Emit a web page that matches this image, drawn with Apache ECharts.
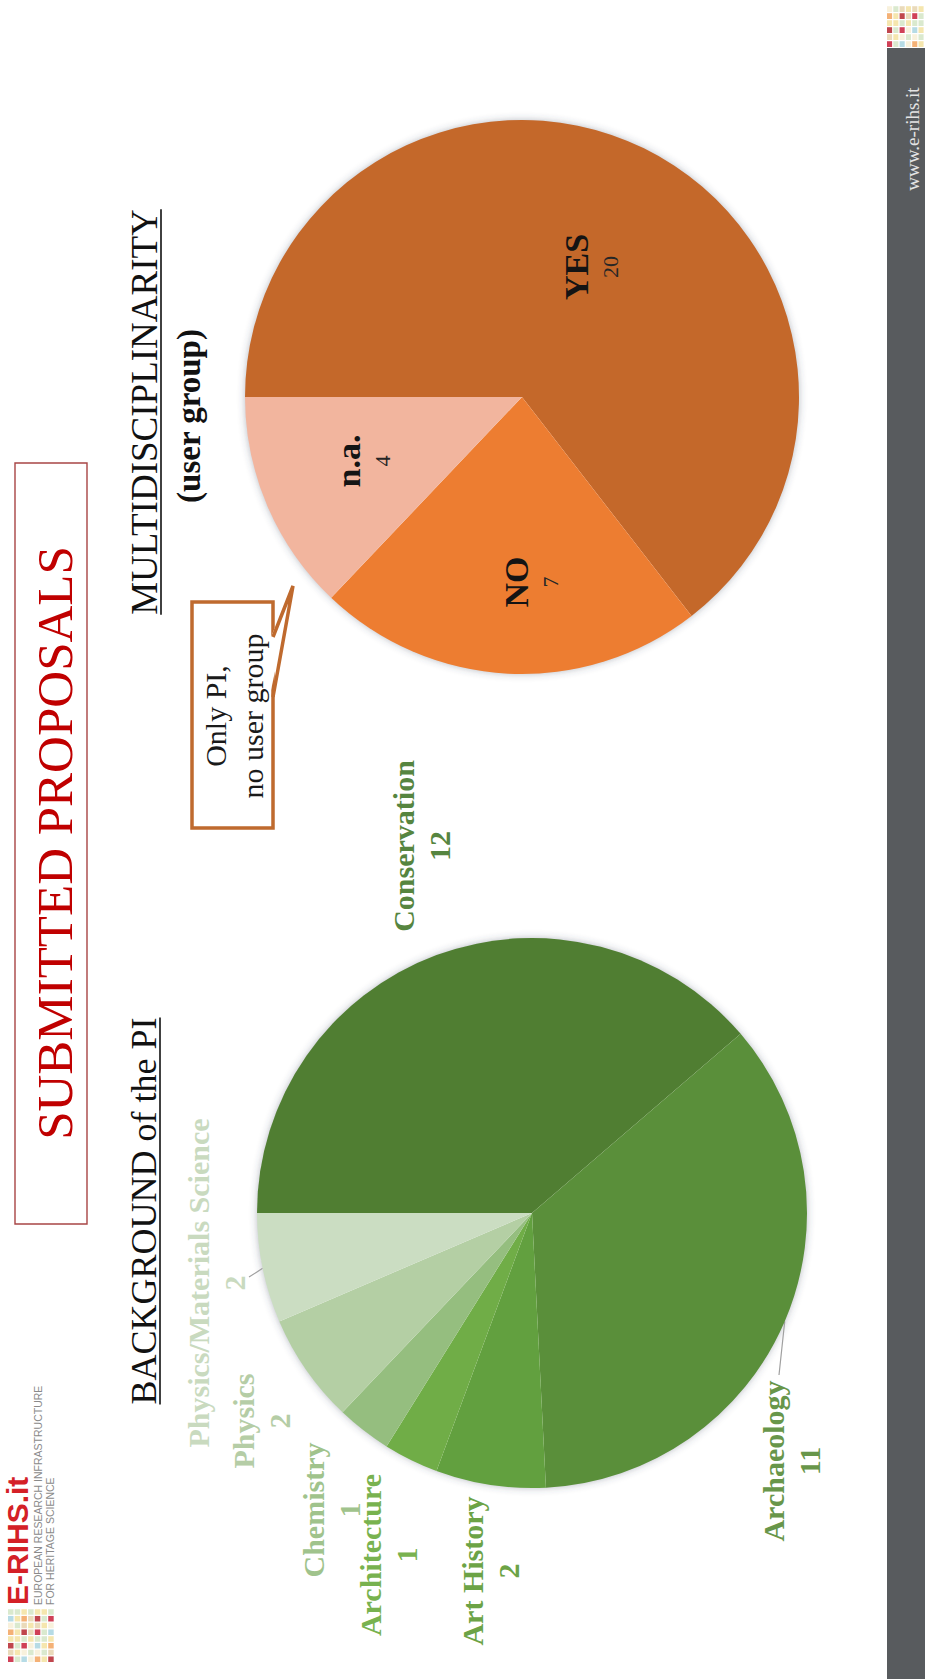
<!DOCTYPE html>
<html>
<head>
<meta charset="utf-8">
<title>Submitted proposals</title>
<script src="https://cdn.jsdelivr.net/npm/echarts@6/dist/echarts.min.js"></script>
<style>
  html, body { margin: 0; padding: 0; width: 925px; height: 1679px; overflow: hidden; background: #ffffff; }
  /* the slide is laid out in landscape and turned a quarter turn counter-clockwise */
  #slide {
    position: absolute; left: 0; top: 0;
    width: 1679px; height: 925px;
    transform-origin: 0 0;
    transform: translate(0, 1679px) rotate(-90deg);
  }
</style>
</head>
<body>
<div id="slide"></div>
<script>
// ---- Background of the PI ----
const backgroundNames = ['Conservation', 'Archaeology', 'Art History', 'Architecture', 'Chemistry', 'Physics', 'Physics/Materials Science'];
const backgroundCounts = [12, 11, 2, 1, 1, 2, 2];
const backgroundColors = ['#507E32', '#5A8F3A', '#62A03F', '#70AD47', '#95BE7F', '#B4CFA4', '#CBDDC2'];
const backgroundLabelColors = ['#568540', '#68964A', '#6CA346', '#78B24F', '#A0C38C', '#B5CDA6', '#C9DABF'];
const backgroundHasLeader = [false, true, false, false, false, false, true];

// ---- Multidisciplinarity (user group) ----
const multiNames = ['YES', 'NO', 'n.a.'];
const multiCounts = [20, 7, 4];
const multiColors = ['#C4682A', '#ED7D31', '#F2B59E'];

// ---- layout (slide pixels) ----
const SERIF = "'Liberation Serif', 'DejaVu Serif', serif";
const SANS = "'Liberation Sans', Arial, sans-serif";
const greenPie = { cx: 466, cy: 532, r: 275 };
const orangePie = { cx: 1282, cy: 522, r: 277 };
// where each label block sits, and where leader lines end near the text
const backgroundLabelPos = [[833, 421], [218, 791], [108, 490], [124, 388], [169, 331], [258, 261], [396, 216]];
const backgroundLeaderEnd = { 1: [304, 779], 6: [402, 249] };
const multiLabelPos = [[1412, 590], [1097, 530], [1218, 362]];

// point on the bisector of slice i, at distance dist from the centre
function sliceMidPoint(values, i, cx, cy, dist) {
  const total = values.reduce((a, b) => a + b, 0);
  let before = 0;
  for (let k = 0; k < i; k++) before += values[k];
  const theta = (before + values[i] / 2) / total * 2 * Math.PI; // clockwise from 12 o'clock
  return [cx + dist * Math.sin(theta), cy - dist * Math.cos(theta)];
}

const measureCtx = document.createElement('canvas').getContext('2d');
function textWidth(str, font) { measureCtx.font = font; return measureCtx.measureText(str).width; }

function text(str, x, y, font, fill, align, vAlign) {
  return {
    type: 'text', x: x, y: y, z: 10,
    style: { text: str, font: font, fill: fill, textAlign: align || 'center', textVerticalAlign: vAlign || 'middle' }
  };
}

function underlinedHeading(str, cx, baseline, size) {
  const font = size + 'px ' + SERIF;
  const w = textWidth(str, font);
  return [
    text(str, cx, baseline - size * 0.33, font, '#111111'),
    { type: 'line', z: 10, shape: { x1: cx - w / 2, y1: baseline + 4, x2: cx + w / 2, y2: baseline + 4 },
      style: { stroke: '#111111', lineWidth: 1.6 } }
  ];
}

const mosaicPalette = ['#C81E3A', '#F3E2A0', '#A9D5E1', '#E6D3AE', '#F2A35E', '#D3E5C6', '#B5262E', '#F7EED6'];
function mosaic(x0, y0, cols, rows, cw, ch) {
  const els = [];
  for (let r = 0; r < rows; r++) {
    for (let c = 0; c < cols; c++) {
      const k = (r * 5 + c * 3 + ((r * c) % 4)) % mosaicPalette.length;
      els.push({ type: 'rect', z: 5, shape: { x: x0 + c * cw, y: y0 + r * ch, width: cw - 1.2, height: ch - 1.2 },
        style: { fill: mosaicPalette[k], opacity: 0.85 } });
    }
  }
  return els;
}

const graphics = [
  // soft drop shadow under each pie
  { type: 'circle', z: 0, shape: { cx: greenPie.cx, cy: greenPie.cy, r: greenPie.r - 1 },
    style: { fill: '#ffffff', shadowBlur: 9, shadowColor: 'rgba(60,70,90,0.45)' } },
  { type: 'circle', z: 0, shape: { cx: orangePie.cx, cy: orangePie.cy, r: orangePie.r - 1 },
    style: { fill: '#ffffff', shadowBlur: 9, shadowColor: 'rgba(60,70,90,0.45)' } },

  // slide title in its frame
  { type: 'rect', z: 5, shape: { x: 455, y: 15, width: 761, height: 72 },
    style: { fill: 'none', stroke: '#A84545', lineWidth: 1.4 } },
  text('SUBMITTED PROPOSALS', 836, 72 - 51 * 0.33, '51px ' + SERIF, '#C00000'),

  ...underlinedHeading('BACKGROUND of the PI', 468, 156, 36),
  ...underlinedHeading('MULTIDISCIPLINARITY', 1267, 157, 37),
  text('(user group)', 1263, 200 - 33 * 0.33, 'bold 33px ' + SERIF, '#111111'),

  // callout for the n.a. slice
  { type: 'rect', z: 6, shape: { x: 851, y: 192, width: 226, height: 81 },
    style: { fill: '#ffffff', stroke: '#BF6A2E', lineWidth: 3.5 } },
  { type: 'polygon', z: 7, shape: { points: [[984, 270], [1093, 293], [1040, 270]] },
    style: { fill: '#ffffff' } },
  { type: 'polyline', z: 8, shape: { points: [[982, 273], [1093, 293], [1042, 273]] },
    style: { stroke: '#BF6A2E', lineWidth: 3.5, fill: null, lineJoin: 'miter' } },
  text('Only PI,', 963, 225 - 30 * 0.33, '30px ' + SERIF, '#1a1a1a'),
  text('no user group', 963, 262 - 30 * 0.33, '30px ' + SERIF, '#1a1a1a'),

  // logo
  ...mosaic(17, 8, 8, 7, 6.75, 6.7),
  text('E-RIHS.it', 74, 28 - 30 * 0.34, 'bold 30px ' + SANS, '#D42027', 'left'),
  text('EUROPEAN RESEARCH INFRASTRUCTURE', 74, 38, '10.5px ' + SANS, '#8A8A8A', 'left'),
  text('FOR HERITAGE SCIENCE', 74, 50, '10.5px ' + SANS, '#8A8A8A', 'left'),

  // footer band
  { type: 'rect', z: 4, shape: { x: 0, y: 887, width: 1631, height: 38 }, style: { fill: '#585B5E' } },
  text('www.e-rihs.it', 1540, 912, '19px ' + SERIF, '#E4E4E4'),
  ...mosaic(1632, 887, 6, 6, 7, 6.3)
];

const chart = echarts.init(document.getElementById('slide'), null, { renderer: 'svg', width: 1679, height: 925 });

chart.setOption({
  backgroundColor: '#ffffff',
  animation: false,
  graphic: { elements: graphics },
  series: [
    {
      name: 'Background of the PI',
      type: 'pie',
      center: [greenPie.cx, greenPie.cy],
      radius: greenPie.r,
      startAngle: 90,
      clockwise: true,
      avoidLabelOverlap: false,
      silent: true,
      itemStyle: { borderWidth: 0 },
      data: backgroundNames.map((n, i) => ({
        name: n,
        value: backgroundCounts[i],
        itemStyle: { color: backgroundColors[i] },
        label: { color: backgroundLabelColors[i] },
        labelLine: { show: backgroundHasLeader[i] }
      })),
      label: {
        show: true,
        position: 'outside',
        formatter: '{b}\n{c}',
        fontFamily: SERIF,
        fontWeight: 'bold',
        fontSize: 30,
        lineHeight: 36,
        align: 'center'
      },
      labelLine: { lineStyle: { color: '#A0A0A0', width: 1.2 } },
      labelLayout: function (p) {
        const i = p.dataIndex;
        const pos = backgroundLabelPos[i];
        const out = { x: pos[0], y: pos[1], align: 'center', verticalAlign: 'middle' };
        if (backgroundHasLeader[i]) {
          const edge = sliceMidPoint(backgroundCounts, i, greenPie.cx, greenPie.cy, greenPie.r);
          const end = backgroundLeaderEnd[i];
          out.labelLinePoints = [edge, [(edge[0] + end[0]) / 2, (edge[1] + end[1]) / 2], end];
        }
        return out;
      }
    },
    {
      name: 'Multidisciplinarity (user group)',
      type: 'pie',
      center: [orangePie.cx, orangePie.cy],
      radius: orangePie.r,
      startAngle: 90,
      clockwise: true,
      avoidLabelOverlap: false,
      silent: true,
      itemStyle: { borderWidth: 0 },
      data: multiNames.map((n, i) => ({ name: n, value: multiCounts[i], itemStyle: { color: multiColors[i] } })),
      label: {
        show: true,
        position: 'inside',
        formatter: '{n|{b}}\n{v|{c}}',
        rich: {
          n: { fontFamily: SERIF, fontWeight: 'bold', fontSize: 34, lineHeight: 40, color: '#141414', align: 'center' },
          v: { fontFamily: SERIF, fontSize: 22, lineHeight: 28, color: '#262626', align: 'center' }
        }
      },
      labelLine: { show: false },
      labelLayout: function (p) {
        const pos = multiLabelPos[p.dataIndex];
        return { x: pos[0], y: pos[1], align: 'center', verticalAlign: 'middle' };
      }
    }
  ]
});
</script>
</body>
</html>
